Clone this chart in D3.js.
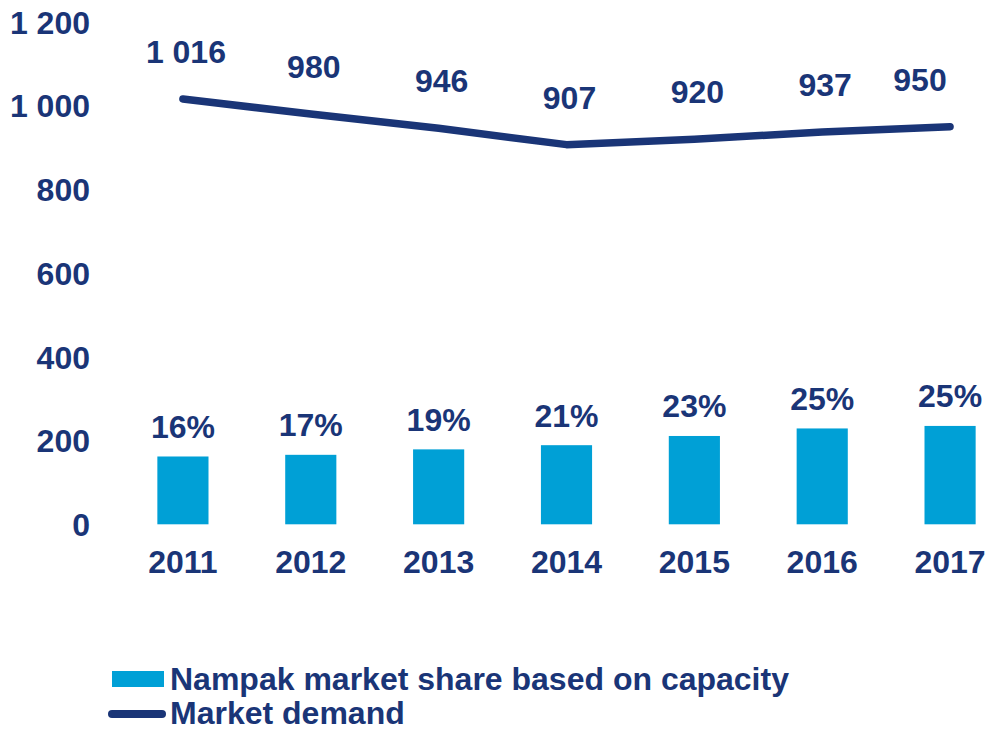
<!DOCTYPE html>
<html>
<head>
<meta charset="utf-8">
<script src="https://cdn.jsdelivr.net/npm/d3@7/dist/d3.min.js"></script>
<style>
  html, body { margin: 0; padding: 0; background: #ffffff; }
  svg { display: block; }
  text { font-family: "Liberation Sans", Arial, sans-serif; font-weight: bold; fill: #1a3577; }
</style>
</head>
<body>
<svg id="chart" width="986" height="732"></svg>
<script>
// Years on the x axis
const years = ["2011", "2012", "2013", "2014", "2015", "2016", "2017"];
// Market demand (line)
const demand = [1016, 980, 946, 907, 920, 937, 950];
// Nampak capacity volume (bars) and its market share label
const capacity = [162, 166, 179, 189, 211, 229, 235];
const shareLabels = ["16%", "17%", "19%", "21%", "23%", "25%", "25%"];
// Y axis ticks
const yTicks = [0, 200, 400, 600, 800, 1000, 1200];
// Legend entries
const legendLabels = ["Nampak market share based on capacity", "Market demand"];

const navy = "#1a3577";
const cyan = "#00a0d6";

const svg = d3.select("#chart");

const x = d3.scaleBand()
  .domain(years)
  .range([119, 1014])
  .paddingInner(0.6)
  .paddingOuter(0.3);

const y = d3.scaleLinear()
  .domain([0, 1200])
  .range([524.3, 22]);

const fmt = v => d3.format(",")(v).replace(/,/g, " ");

// Y axis: labels only
const yAxis = d3.axisLeft(y)
  .tickValues(yTicks)
  .tickFormat(fmt)
  .tickSize(0)
  .tickPadding(0);
const gy = svg.append("g").attr("transform", "translate(90,0)").call(yAxis);
gy.select(".domain").remove();
gy.selectAll("text")
  .attr("font-size", 32)
  .attr("font-family", null)
  .attr("fill", navy)
  .attr("dy", "0.35em");

// X axis: year labels only
const xAxis = d3.axisBottom(x).tickSize(0).tickPadding(0);
const gx = svg.append("g").attr("transform", "translate(0,524.3)").call(xAxis);
gx.select(".domain").remove();
gx.selectAll("text")
  .attr("font-size", 32)
  .attr("font-family", null)
  .attr("fill", navy)
  .attr("dy", "48.5");

// Bars
svg.append("g").selectAll("rect")
  .data(capacity)
  .join("rect")
  .attr("x", (d, i) => x(years[i]))
  .attr("width", x.bandwidth())
  .attr("y", d => y(d))
  .attr("height", d => y(0) - y(d))
  .attr("fill", cyan);

// Share labels above bars
svg.append("g").selectAll("text")
  .data(capacity)
  .join("text")
  .attr("x", (d, i) => x(years[i]) + x.bandwidth() / 2)
  .attr("y", d => y(d) - 18.5)
  .attr("text-anchor", "middle")
  .attr("font-size", 32)
  .text((d, i) => shareLabels[i]);

// Demand line
const cx = i => x(years[i]) + x.bandwidth() / 2;
const line = d3.line()
  .x((d, i) => cx(i))
  .y(d => y(d));
svg.append("path")
  .datum(demand)
  .attr("d", line)
  .attr("fill", "none")
  .attr("stroke", navy)
  .attr("stroke-width", 7.5)
  .attr("stroke-linecap", "round")
  .attr("stroke-linejoin", "round");

// Demand labels, kept inside the plot on the right
svg.append("g").selectAll("text")
  .data(demand)
  .join("text")
  .attr("x", (d, i) => Math.min(cx(i) + 3, 920))
  .attr("y", d => y(d) - 36)
  .attr("text-anchor", "middle")
  .attr("font-size", 32)
  .text(d => fmt(d));

// Legend
const legend = svg.append("g");
legend.append("rect")
  .attr("x", 112).attr("y", 671)
  .attr("width", 52).attr("height", 16)
  .attr("fill", cyan);
legend.append("line")
  .attr("x1", 112).attr("x2", 162)
  .attr("y1", 714).attr("y2", 714)
  .attr("stroke", navy)
  .attr("stroke-width", 8)
  .attr("stroke-linecap", "round");
legend.selectAll("text")
  .data(legendLabels)
  .join("text")
  .attr("x", 170)
  .attr("y", (d, i) => 690 + i * 34)
  .attr("font-size", 32)
  .text(d => d);
</script>
</body>
</html>
